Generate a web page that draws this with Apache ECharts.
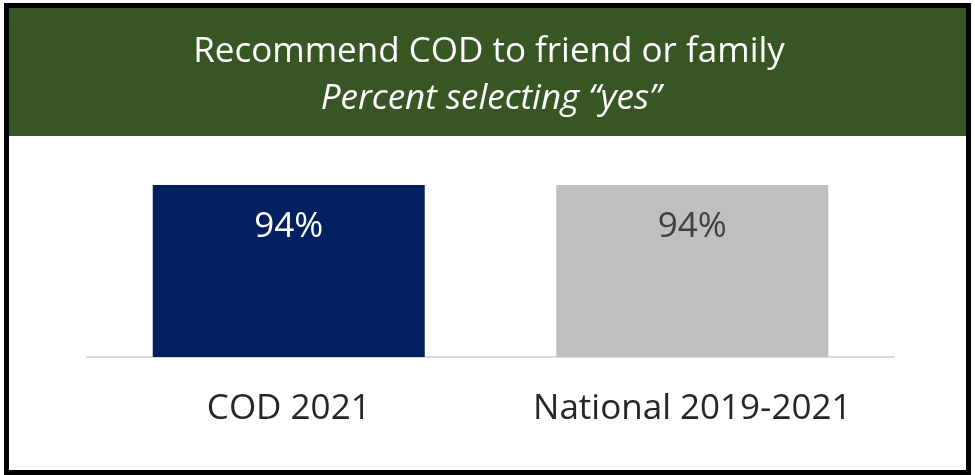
<!DOCTYPE html>
<html><head><meta charset="utf-8">
<script src="https://cdn.jsdelivr.net/npm/echarts@6/dist/echarts.min.js"></script>
<style>html,body{margin:0;padding:0;background:#fff}#c{width:975px;height:475px}</style>
</head><body><div id="c"></div>
<script>
const titleText = "Recommend COD to friend or family";
const subtitleText = "Percent selecting \u201cyes\u201d";
const categories = ["COD 2021", "National 2019-2021"];
const values = [94, 94];
const barColors = ["#002060", "#bfbfbf"];
const labelColors = ["#ffffff", "#404040"];

const chart = echarts.init(document.getElementById('c'), null, {renderer: 'canvas'});
const font = "'Open Sans', 'Noto Sans', sans-serif";
chart.setOption({
  animation: false,
  backgroundColor: '#ffffff',
  graphic: [
    {type: 'rect', shape: {x: 6, y: 5, width: 964, height: 131}, style: {fill: '#375623'}, z: 0},
    {type: 'rect', shape: {x: 6.5, y: 5.5, width: 962, height: 467}, style: {fill: 'none', stroke: '#000', lineWidth: 5}, z: 10},
    {type: 'text', x: 489, y: 52, style: {text: titleText, fill: '#ffffff', font: "35px " + font, textAlign: 'center', textVerticalAlign: 'middle'}, z: 5},
    {type: 'text', x: 491, y: 99, style: {text: subtitleText, fill: '#ffffff', font: "italic 35px " + font, textAlign: 'center', textVerticalAlign: 'middle'}, z: 5}
  ],
  grid: {left: 87, right: 81, top: 174, bottom: 118},
  xAxis: {
    type: 'category', data: categories,
    axisLine: {lineStyle: {color: '#d9d9d9', width: 2}},
    axisTick: {show: false},
    axisLabel: {interval: 0, color: '#262626', fontSize: 35, fontFamily: font, margin: 35}
  },
  yAxis: {type: 'value', min: 0, max: 100, show: false, splitLine: {show: false}},
  series: [{
    type: 'bar', barWidth: 272,
    data: values.map((v, i) => ({value: v, itemStyle: {color: barColors[i]},
      label: {color: labelColors[i]}})),
    label: {show: true, position: 'insideTop', distance: 25, formatter: '{c}%', fontSize: 35, fontFamily: font}
  }]
});
</script></body></html>
